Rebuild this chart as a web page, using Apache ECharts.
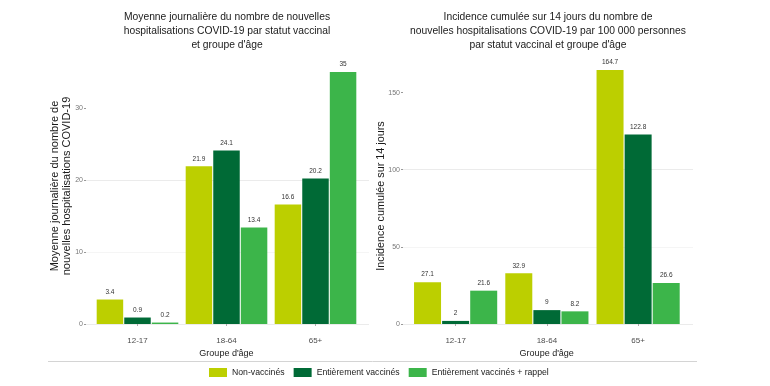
<!DOCTYPE html>
<html>
<head>
<meta charset="utf-8">
<script src="https://cdn.jsdelivr.net/npm/echarts@6/dist/echarts.min.js"></script>
<style>html,body{margin:0;padding:0;background:#fff}#c{width:770px;height:386px}</style>
</head>
<body>
<div id="c"></div>
<script>
const categories = ['12-17', '18-64', '65+'];
const seriesNames = ['Non-vaccinés', 'Entièrement vaccinés', 'Entièrement vaccinés + rappel'];
const dailyNonVax = [3.4, 21.9, 16.6];
const dailyFullVax = [0.9, 24.1, 20.2];
const dailyBooster = [0.2, 13.4, 35];
const incNonVax = [27.1, 32.9, 164.7];
const incFullVax = [2, 9, 122.8];
const incBooster = [21.6, 8.2, 26.6];
const leftTicks = [0, 10, 20, 30];
const rightTicks = [0, 50, 100, 150];
const colors = ['#bccf00', '#006a36', '#3cb54a'];

const FONT = '"Liberation Sans", Arial, sans-serif';
const chart = echarts.init(document.getElementById('c'), null, {renderer: 'canvas'});

function gridAxisY(gi, max, step, ticks) {
  return {
    type: 'value', gridIndex: gi, min: 0, max: max, interval: step,
    axisLine: {show: false},
    axisTick: {show: true, length: 2, lineStyle: {color: '#999'}, customValues: ticks},
    axisLabel: {fontSize: 7, color: '#777', margin: 3, fontFamily: FONT, customValues: ticks},
    splitLine: {show: true, showMaxLine: false, lineStyle: {color: ['#e6e6e6', '#f3f3f3'], width: 0.8}}
  };
}
function barAxisY(gi, max) {
  return {type: 'value', gridIndex: gi, min: 0, max: max, show: false, splitLine: {show: false}};
}
function barAxisX(gi) {
  return {
    type: 'category', gridIndex: gi, data: categories, offset: 12,
    axisLine: {show: false},
    axisTick: {show: true, alignWithLabel: true, length: 2, lineStyle: {color: '#aaa'}},
    axisLabel: {fontSize: 8, color: '#4d4d4d', margin: 1, fontFamily: FONT}
  };
}
function mkSeries(name, data, xi, yi, color, bw) {
  return {
    name: name, type: 'bar', data: data, xAxisIndex: xi, yAxisIndex: yi,
    barWidth: bw, barGap: '4%',
    itemStyle: {color: color},
    label: {show: true, position: 'top', distance: 4, fontSize: 6.5, color: '#333', fontFamily: FONT},
    emphasis: {disabled: true}
  };
}

const option = {
  animation: false,
  textStyle: {fontFamily: FONT},
  grid: [
    {left: 86, top: 54, width: 283, height: 270},
    {left: 93, top: 54, width: 267, height: 270},
    {left: 403, top: 54, width: 290, height: 270},
    {left: 410, top: 54, width: 273.75, height: 270}
  ],
  xAxis: [
    {type: 'value', gridIndex: 0, min: 0, max: 1, show: false},
    barAxisX(1),
    {type: 'value', gridIndex: 2, min: 0, max: 1, show: false},
    barAxisX(3)
  ],
  yAxis: [
    gridAxisY(0, 37.5, 5, leftTicks),
    barAxisY(1, 37.5),
    gridAxisY(2, 175, 25, rightTicks),
    barAxisY(3, 175)
  ],
  legend: {
    data: seriesNames, left: 204, top: 363, itemWidth: 18, itemHeight: 9, itemGap: 9,
    icon: 'rect', textStyle: {fontSize: 8.7, color: '#1a1a1a', fontFamily: FONT}
  },
  series: [
    mkSeries(seriesNames[0], dailyNonVax, 1, 1, colors[0], 26.5),
    mkSeries(seriesNames[1], dailyFullVax, 1, 1, colors[1], 26.5),
    mkSeries(seriesNames[2], dailyBooster, 1, 1, colors[2], 26.5),
    mkSeries(seriesNames[0], incNonVax, 3, 3, colors[0], 27),
    mkSeries(seriesNames[1], incFullVax, 3, 3, colors[1], 27),
    mkSeries(seriesNames[2], incBooster, 3, 3, colors[2], 27)
  ],
  graphic: [
    {type: 'text', x: 227, y: 10, style: {text: 'Moyenne journalière du nombre de nouvelles\nhospitalisations COVID-19 par statut vaccinal\net groupe d\'âge', font: '10.3px ' + FONT, lineHeight: 14, textAlign: 'center', textVerticalAlign: 'top', fill: '#1a1a1a'}},
    {type: 'text', x: 548, y: 10, style: {text: 'Incidence cumulée sur 14 jours du nombre de\nnouvelles hospitalisations COVID-19 par 100 000 personnes\npar statut vaccinal et groupe d\'âge', font: '10.3px ' + FONT, lineHeight: 14, textAlign: 'center', textVerticalAlign: 'top', fill: '#1a1a1a'}},
    {type: 'text', x: 60.5, y: 186, rotation: Math.PI / 2, style: {text: 'Moyenne journalière du nombre de\nnouvelles hospitalisations COVID-19', font: '11px ' + FONT, lineHeight: 12, textAlign: 'center', textVerticalAlign: 'middle', fill: '#1a1a1a'}},
    {type: 'text', x: 381, y: 196, rotation: Math.PI / 2, style: {text: 'Incidence cumulée sur 14 jours', font: '10.8px ' + FONT, textAlign: 'center', textVerticalAlign: 'middle', fill: '#1a1a1a'}},
    {type: 'text', x: 226.5, y: 354, style: {text: 'Groupe d\'âge', font: '9px ' + FONT, textAlign: 'center', textVerticalAlign: 'middle', fill: '#1a1a1a'}},
    {type: 'text', x: 546.75, y: 354, style: {text: 'Groupe d\'âge', font: '9px ' + FONT, textAlign: 'center', textVerticalAlign: 'middle', fill: '#1a1a1a'}},
    {type: 'line', shape: {x1: 48, y1: 361.5, x2: 697, y2: 361.5}, style: {stroke: '#d4d4d4', lineWidth: 1}}
  ]
};
chart.setOption(option);
</script>
</body>
</html>
